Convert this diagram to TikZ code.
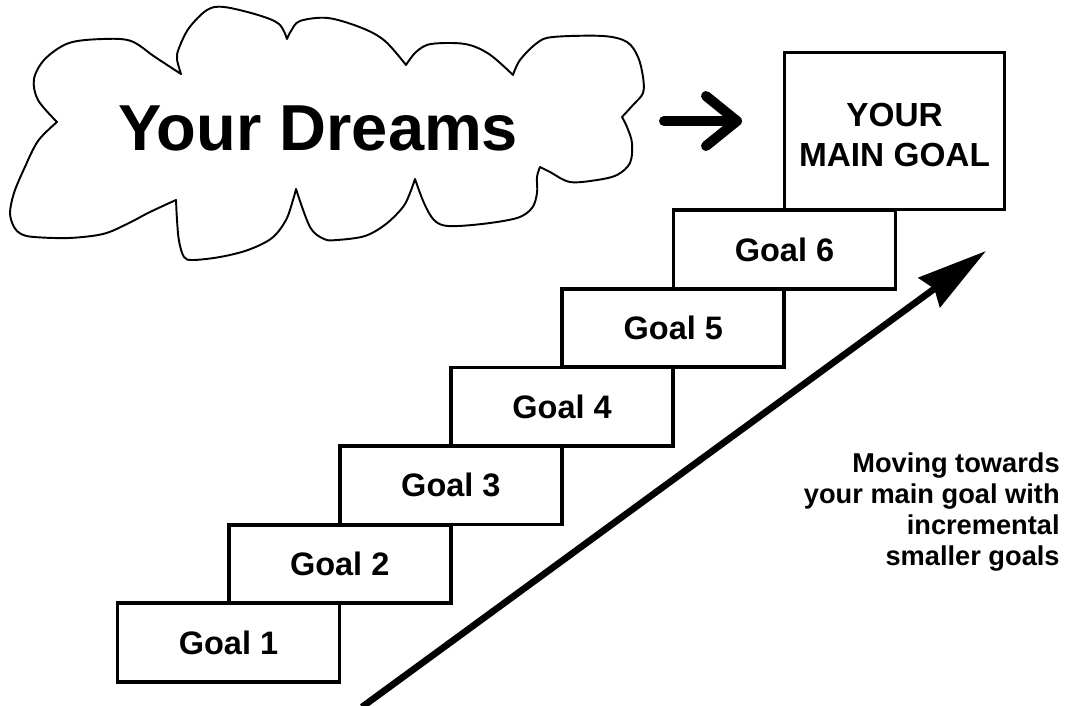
\documentclass[tikz,border=0pt]{standalone}
\usepackage{fontspec}
\setmainfont{Liberation Sans}
\usetikzlibrary{arrows.meta, positioning}

\begin{document}
\begin{tikzpicture}[
  x=0.02cm, y=-0.02cm,
  stair/.style={draw, line width=2.2pt, minimum width=4.44cm,
                minimum height=1.57cm, inner sep=0pt,
                font=\fontsize{18.5}{22}\selectfont\bfseries},
  maingoal/.style={stair, minimum width=4.4cm, minimum height=3.14cm},
  maintext/.style={align=center, inner sep=0pt,
                   font=\fontsize{19}{22.8}\selectfont\bfseries},
  cloudline/.style={line width=1.1pt, line join=round, smooth, tension=0.55},
  climb/.style={line width=3.8pt, -{Stealth[length=1.4cm, width=0.72cm, inset=0.12cm]}},
  towards/.style={line width=5.7pt, line cap=round,
                  -{Straight Barb[round, length=0.62cm, width=1cm]}},
  note/.style={font=\fontsize{15.5}{17.6}\selectfont\bfseries, align=right,
               inner sep=0pt, anchor=east}
]
\fill[white] (0,0) rectangle (1065,706);
\useasboundingbox (0,0) rectangle (1065,706);

%% cloud
\draw[cloudline]
  plot coordinates {(57,122) (38,100) (34,79) (45,59) (69,43) (103,39) (131,41) (155,57) (181,74)}
  -- plot coordinates {(181,74) (177,59) (179,48) (189,28) (207,10) (224,7) (258,15) (279,24) (287,39)}
  -- plot coordinates {(287,39) (291,31) (300,21) (328,18) (362,28) (385,41) (406,65)}
  -- plot coordinates {(406,65) (416,52) (431,44) (465,44) (489,54) (513,75)}
  -- plot coordinates {(513,75) (520,60) (537,43) (553,37) (603,36) (627,42) (638,57) (643,77) (643,93) (633,105) (622,117)}
  -- plot coordinates {(622,117) (627,127) (632,143) (630,163) (617,175) (597,180) (570,182) (550,172) (540,167)}
  -- plot coordinates {(540,167) (537,177) (537,193) (532,208) (517,218) (482,224) (448,226) (434,220) (424,203) (415,179)}
  -- plot coordinates {(415,179) (410,193) (403,207) (386,224) (365,236) (337,240) (324,239) (310,227) (296,189)}
  -- plot coordinates {(296,189) (293,200) (286,220) (272,238) (248,250) (220,257) (193,260) (184,257) (179,241) (177,220) (176,200)}
  -- plot coordinates {(176,200) (165,205) (148,213) (127,224) (103,234) (69,238) (34,237) (21,234) (14,227) (10,213) (14,193) (24,169) (38,141) (57,122)}
  -- cycle;
\node[anchor=base west, inner sep=0pt, font=\fontsize{37}{40}\selectfont\bfseries]
  (dreams) at (118,151) {Your Dreams};

%% stairs
\node[stair] (goal1) at (228.5,642.5) {Goal 1};
\node[stair] (goal2) at (339.7,563.9) {Goal 2};
\node[stair] (goal3) at (450.9,485.3) {Goal 3};
\node[stair] (goal4) at (562.1,406.7) {Goal 4};
\node[stair] (goal5) at (673.3,328.1) {Goal 5};
\node[stair] (goal6) at (784.5,249.5) {Goal 6};
\node[maingoal] (main) at (894.5,131) {};
\node[maintext] (mainlabel) at ([yshift=-0.08cm]main.center) {YOUR\\MAIN GOAL};

%% arrows
\coordinate (dreamsend) at (664,121);
\coordinate (mainfront) at (742,121);
\draw[towards] (dreamsend) -- (mainfront);

\coordinate (climbfoot) at (362,707);
\coordinate (climbtop) at (986,251);
\draw[climb] (climbfoot) -- (climbtop);

%% note right
\node[note] (moving) at (1060,512)
  {Moving towards\\your main goal with\hspace*{0.3em}\\incremental\\smaller goals};
\end{tikzpicture}
\end{document}
